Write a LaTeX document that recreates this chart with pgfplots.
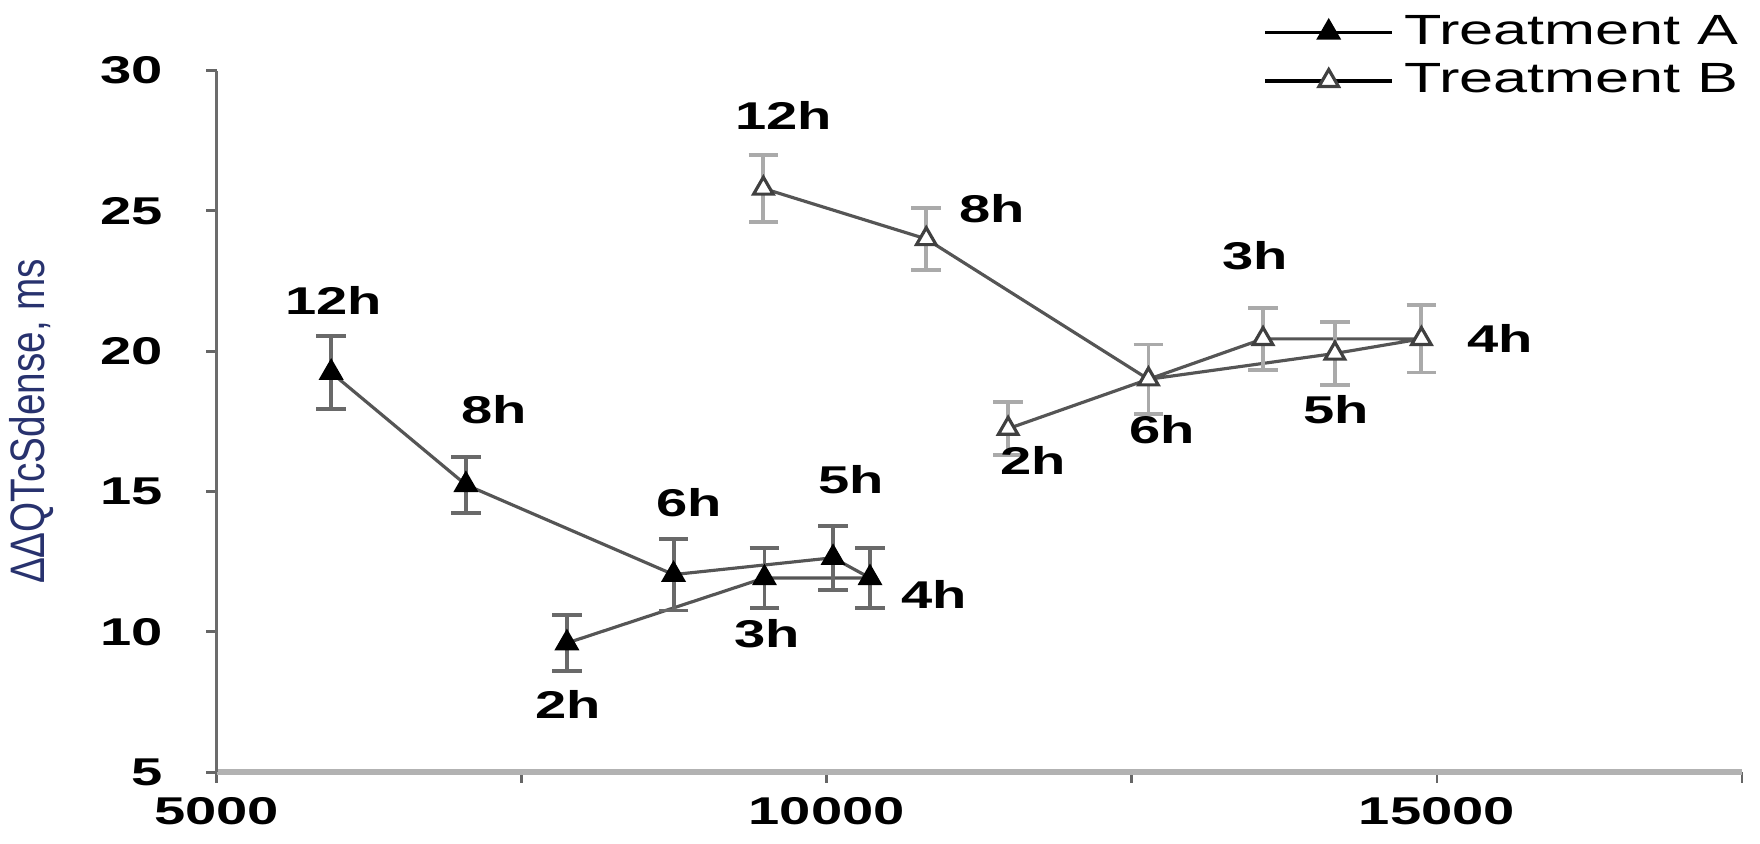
\documentclass[border=0pt]{standalone}
\usepackage{pgfplots}
\pgfplotsset{compat=1.18}
\usepackage{fontspec}
\setmainfont{Liberation Sans}
\definecolor{errA}{RGB}{105,105,105}
\definecolor{errB}{RGB}{170,170,170}
\definecolor{lineC}{RGB}{85,85,85}
\definecolor{ylab}{RGB}{40,50,110}
\begin{document}
\begin{tikzpicture}
\useasboundingbox (-61.57pt,-20.41pt) rectangle (438.43pt,219.36pt);
\begin{axis}[
  at={(0,0)}, anchor=south west,
  scale only axis, width=433.3pt, height=199.3pt,
  xmin=5000, xmax=17500, ymin=5, ymax=30,
  clip=false,
  axis x line*=bottom, axis y line*=left,
  x axis line style={-, color=gray!60, line width=1.6pt},
  y axis line style={-, color=gray!85!black, line width=1pt},
  tick align=outside, major tick length=3pt,
  tick style={color=gray!80!black, line width=0.8pt},
  xtick={5000,7500,10000,12500,15000,17500},
  xticklabels={5000,,10000,,15000,},
  ytick={5,10,15,20,25,30},
  yticklabels={5,10,15,20,25,30},
  ticklabel style={font=\bfseries\fontsize{11}{13}\selectfont, xscale=1.45},
  xticklabel style={yshift=-3pt, inner ysep=1pt},
  yticklabel style={xshift=-5pt},
  ylabel={ΔΔQTcSdense, ms},
  ylabel style={font=\fontsize{11}{13}\selectfont, color=ylab, yshift=4pt, yscale=1.25},
  legend style={at={(axis description cs:1.012,1.1)}, anchor=north east, draw=none, fill=none,
    font=\fontsize{12}{14}\selectfont, row sep=0pt, legend cell align=left,
    nodes={xscale=1.45}},
  legend image code/.code={
    \draw[black, line width=1pt] (0pt,0pt) -- (36pt,0pt);
    \draw[#1, mark repeat=1] plot coordinates {(18pt,0pt)};
  },
]
\addplot[color=lineC, line width=0.9pt, mark=triangle*, mark size=3.2pt,
  mark options={fill=black, draw=black, solid},
  error bars/.cd, y dir=both, y explicit,
  error bar style={color=errA, line width=1.1pt},
  error mark options={rotate=90, mark size=4.2pt, color=errA, line width=1.1pt}]
 coordinates {
 (7870,9.60) +- (0,1.0)
 (9489,11.92) +- (0,1.08)
 (10354,11.92) +- (0,1.08)
 (10051,12.64) +- (0,1.14)
 (8744,12.04) +- (0,1.28)
 (7042,15.24) +- (0,1.0)
 (5938,19.24) +- (0,1.3)
 };
\addlegendentry{Treatment A}
\addplot[color=lineC, line width=0.9pt, mark=triangle*, mark size=3.2pt,
  mark options={fill=white, draw=black!75, solid, line width=0.9pt},
  error bars/.cd, y dir=both, y explicit,
  error bar style={color=errB, line width=1.1pt},
  error mark options={rotate=90, mark size=4.2pt, color=errB, line width=1.1pt}]
 coordinates {
 (11486,17.24) +- (0,0.94)
 (13575,20.44) +- (0,1.1)
 (14873,20.44) +- (0,1.2)
 (14164,19.92) +- (0,1.12)
 (12636,19.0) +- (0,1.24)
 (10815,24.0) +- (0,1.1)
 (9480,25.8) +- (0,1.2)
 };
\addlegendentry{Treatment B}
\begin{scope}[every node/.style={font=\bfseries\fontsize{11}{13}\selectfont, xscale=1.45}]
\node at (axis cs:5957,21.8) {12h};
\node at (axis cs:7272,17.92) {8h};
\node at (axis cs:8873,14.6) {6h};
\node at (axis cs:10198,15.44) {5h};
\node at (axis cs:10879,11.32) {4h};
\node at (axis cs:9508,9.92) {3h};
\node at (axis cs:7880,7.4) {2h};
\node at (axis cs:9646,28.4) {12h};
\node at (axis cs:11357,25.08) {8h};
\node at (axis cs:13510,23.4) {3h};
\node at (axis cs:15516,20.44) {4h};
\node at (axis cs:14173,17.92) {5h};
\node at (axis cs:12747,17.2) {6h};
\node at (axis cs:11689,16.12) {2h};
\end{scope}
\end{axis}
\end{tikzpicture}
\end{document}
